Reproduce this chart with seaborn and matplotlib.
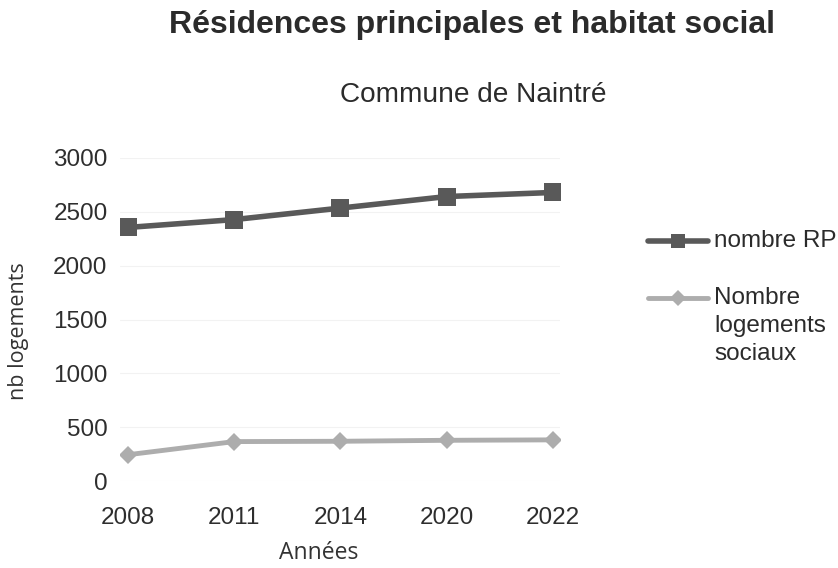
import matplotlib
matplotlib.use("Agg")
import matplotlib.pyplot as plt
import seaborn as sns
import pandas as pd
from matplotlib.lines import Line2D

annees = ["2008", "2011", "2014", "2020", "2022"]
nombre_rp = [2355, 2428, 2535, 2642, 2680]
logements_sociaux = [244, 366, 369, 378, 382]
series_names = ["nombre RP", "Nombre\nlogements\nsociaux"]
colors = ["#595959", "#adadad"]

sns.set_theme(style="white")
plt.rcParams["font.family"] = ["Liberation Sans", "DejaVu Sans"]

df = pd.DataFrame({
    "Année": annees * 2,
    "idx": list(range(len(annees))) * 2,
    "valeur": nombre_rp + logements_sociaux,
    "serie": [series_names[0]] * len(annees) + [series_names[1]] * len(annees),
})

fig = plt.figure(figsize=(8.38, 5.68), dpi=100)
ax = fig.add_axes([120 / 838, 1 - 481 / 568, 440 / 838, 323 / 568])

palette = {series_names[0]: colors[0], series_names[1]: colors[1]}
markers = {series_names[0]: "s", series_names[1]: "D"}
sns.lineplot(data=df, x="idx", y="valeur", hue="serie", style="serie",
             palette=palette, markers=markers, dashes=False, linewidth=4,
             markersize=13, markeredgewidth=0, ax=ax, legend=False)
for line in ax.lines:
    if line.get_marker() == "D":
        line.set_markersize(9.5)
        line.set_linewidth(3.5)

ax.set_xlim(-0.075, 4.066)
ax.set_ylim(0, 3000)
ax.set_xticks(range(len(annees)))
ax.set_xticklabels(annees)
ax.set_yticks(range(0, 3001, 500))
ax.tick_params(axis="both", labelsize=17.5, colors="#2e2e2e", length=0)
ax.tick_params(axis="x", pad=19)
ax.tick_params(axis="y", pad=9)
ax.grid(axis="y", color="#f2f2f2", linewidth=0.8)
for s in ax.spines.values():
    s.set_visible(False)
ax.set_xlabel("Années", fontsize=16.5, color="#333333", family=["Open Sans", "DejaVu Sans"],
              va="center")
ax.xaxis.set_label_coords((319 - 120) / 440, (481 - 553) / 323)
ax.set_ylabel("nb logements", fontsize=15.5, color="#333333", family=["Open Sans", "DejaVu Sans"],
              va="center")
ax.yaxis.set_label_coords((19 - 120) / 440, (481 - 331) / 323)

fig.text(472 / 838, 1 - 25 / 568, "Résidences principales et habitat social",
         ha="center", va="center", fontsize=23, fontweight="bold", color="#2b2b2b")
fig.text(473 / 838, 1 - 95 / 568, "Commune de Naintré",
         ha="center", va="center", fontsize=20.2, color="#2b2b2b")

# legend drawn manually in figure coordinates
leg_y = [241, 298]
for col, mk, ms, lw, yy in zip(colors, ["s", "D"], [9.5, 8], [4, 3.5], leg_y):
    yf = 1 - yy / 568
    fig.add_artist(Line2D([648 / 838, 708 / 838], [yf, yf], transform=fig.transFigure,
                          color=col, lw=lw))
    fig.add_artist(Line2D([678 / 838], [yf], transform=fig.transFigure,
                          color=col, marker=mk, markersize=ms, markeredgewidth=0))
fig.text(714 / 838, 1 - 241 / 568, series_names[0], ha="left", va="center",
         fontsize=17.5, color="#2b2b2b")
fig.text(714 / 838, 1 - 287 / 568, series_names[1], ha="left", va="top",
         fontsize=17.5, color="#2b2b2b", linespacing=1.34)

fig.savefig("out.png", dpi=100)
